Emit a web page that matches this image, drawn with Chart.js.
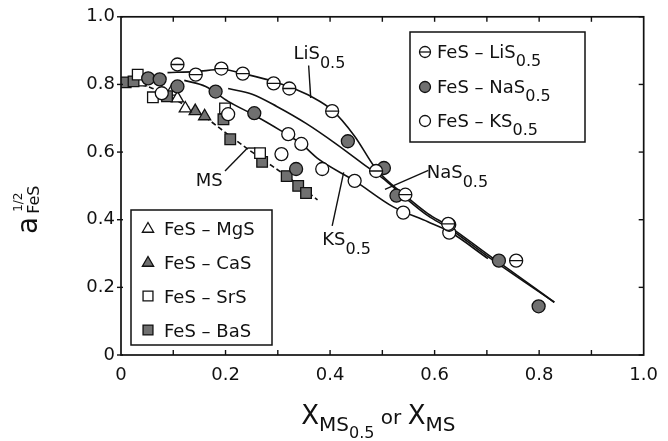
<!DOCTYPE html>
<html><head><meta charset="utf-8">
<script src="https://cdn.jsdelivr.net/npm/chart.js@4/dist/chart.umd.min.js"></script>
<style>html,body{margin:0;padding:0;background:#fff;}</style>
</head><body>
<canvas id="c" width="668" height="441"></canvas>
<script>
const FONT = '"DejaVu Sans", sans-serif';
const INK = '#111';
const GRAY = '#707070';

// ---- data (x = mole fraction, y = a_FeS^(1/2)) ----
const feS_LiS = [[0.108,0.859],[0.143,0.829],[0.192,0.847],[0.233,0.832],[0.292,0.803],[0.322,0.788],[0.404,0.721],[0.488,0.544],[0.544,0.474],[0.626,0.388],[0.756,0.279]];
const feS_NaS = [[0.052,0.818],[0.074,0.815],[0.108,0.794],[0.181,0.779],[0.255,0.715],[0.335,0.550],[0.434,0.632],[0.503,0.553],[0.527,0.471],[0.628,0.385],[0.723,0.279],[0.799,0.144]];
const feS_KS  = [[0.078,0.774],[0.205,0.712],[0.307,0.594],[0.320,0.653],[0.345,0.624],[0.385,0.550],[0.447,0.515],[0.540,0.421],[0.628,0.362]];
const feS_MgS = [[0.037,0.806],[0.097,0.779],[0.108,0.759],[0.123,0.729]];
const feS_CaS = [[0.142,0.721],[0.160,0.706]];
const feS_SrS = [[0.032,0.829],[0.061,0.762],[0.199,0.729],[0.266,0.597]];
const feS_BaS = [[0.009,0.806],[0.024,0.809],[0.088,0.765],[0.196,0.697],[0.209,0.638],[0.270,0.571],[0.317,0.529],[0.339,0.500],[0.354,0.479]];

// guide curves
const curveLi = [[0.089,0.835],[0.143,0.838],[0.192,0.844],[0.242,0.829],[0.298,0.806],[0.335,0.785],[0.363,0.765],[0.404,0.724],[0.447,0.647],[0.488,0.550],[0.544,0.471],[0.587,0.418],[0.626,0.382],[0.702,0.297],[0.764,0.229],[0.829,0.156]];
const curveNa = [[0.205,0.788],[0.251,0.771],[0.298,0.735],[0.354,0.685],[0.410,0.626],[0.471,0.556],[0.507,0.515],[0.544,0.465],[0.587,0.412],[0.628,0.374],[0.702,0.291],[0.829,0.156]];
const curveK  = [[0.121,0.812],[0.162,0.794],[0.205,0.750],[0.255,0.709],[0.304,0.665],[0.345,0.624],[0.378,0.579],[0.447,0.515],[0.521,0.438],[0.587,0.394],[0.628,0.365],[0.702,0.285]];
const curveMS = [[0.009,0.809],[0.056,0.791],[0.102,0.756],[0.158,0.706],[0.209,0.647],[0.270,0.579],[0.317,0.529],[0.376,0.459]];

const xTickValues = [0,0.2,0.4,0.6,0.8,1.0];
const xTickLabels = ['0','0.2','0.4','0.6','0.8','1.0'];
const yTickValues = [0,0.2,0.4,0.6,0.8,1.0];
const yTickLabels = ['0','0.2','0.4','0.6','0.8','1.0'];
const xMinorTicks = [0.1,0.2,0.3,0.4,0.5,0.6,0.7,0.8,0.9];

const legendA = [
  {style:'theta', fill:'#fff', text:'FeS – LiS', sub:'0.5'},
  {style:'circle', fill:GRAY, text:'FeS – NaS', sub:'0.5'},
  {style:'circle', fill:'#fff', text:'FeS – KS', sub:'0.5'}
];
const legendB = [
  {style:'triangle', fill:'#fff', text:'FeS – MgS'},
  {style:'triangle', fill:GRAY, text:'FeS – CaS'},
  {style:'rect', fill:'#fff', text:'FeS – SrS'},
  {style:'rect', fill:GRAY, text:'FeS – BaS'}
];

const toPts = a => a.map(p => ({x:p[0], y:p[1]}));

function markerSet(data, style, fill, radius, order){
  return {data: toPts(data), pointStyle: style, pointRadius: radius, pointHoverRadius: radius,
    pointBackgroundColor: fill, pointBorderColor: INK, pointBorderWidth: 1.3, showLine:false, order};
}
function curveSet(data, order, dash){
  return {data: toPts(data), showLine:true, pointRadius:0, pointHoverRadius:0, borderColor:INK,
    borderWidth:1.6, cubicInterpolationMode:'monotone', fill:false, borderDash: dash||[], order};
}

function drawMarker(ctx, style, fill, r, x, y){
  ctx.save();
  ctx.fillStyle = fill; ctx.strokeStyle = INK; ctx.lineWidth = 1.3;
  ctx.beginPath();
  if (style === 'circle' || style === 'theta') {
    ctx.arc(x, y, r, 0, Math.PI*2);
  } else if (style === 'rect') {
    const s = r*Math.SQRT1_2; ctx.rect(x-s, y-s, 2*s, 2*s);
  } else if (style === 'triangle') {
    let a = 0;
    ctx.moveTo(x + Math.sin(a)*r, y - Math.cos(a)*r);
    a += 2*Math.PI/3; ctx.lineTo(x + Math.sin(a)*r, y - Math.cos(a)*r);
    a += 2*Math.PI/3; ctx.lineTo(x + Math.sin(a)*r, y - Math.cos(a)*r);
    ctx.closePath();
  }
  ctx.fill(); ctx.stroke();
  if (style === 'theta') { ctx.beginPath(); ctx.moveTo(x-r, y); ctx.lineTo(x+r, y); ctx.stroke(); }
  ctx.restore();
}

function rich(ctx, x, y, segs, align){
  let w = 0;
  segs.forEach(s => { ctx.font = s[1]+'px '+FONT; w += ctx.measureText(s[0]).width; });
  let cx = align === 'center' ? x - w/2 : x;
  segs.forEach(s => { ctx.font = s[1]+'px '+FONT; ctx.fillText(s[0], cx, y + s[2]); cx += ctx.measureText(s[0]).width; });
  return w;
}

const deco = {
  id: 'deco',
  afterDraw(chart){
    const {ctx, chartArea: a, scales: {x, y}} = chart;
    const X = v => x.getPixelForValue(v), Y = v => y.getPixelForValue(v);
    ctx.save();
    ctx.strokeStyle = INK; ctx.fillStyle = INK; ctx.lineCap = 'butt';
    const line = (x1,y1,x2,y2) => { ctx.beginPath(); ctx.moveTo(x1,y1); ctx.lineTo(x2,y2); ctx.stroke(); };
    // frame
    ctx.lineWidth = 1.7;
    ctx.strokeRect(a.left, a.top, a.right - a.left, a.bottom - a.top);
    ctx.lineWidth = 1.4;
    xMinorTicks.forEach(v => { const p = X(v); line(p, a.bottom, p, a.bottom - 5); line(p, a.top, p, a.top + 5); });
    yTickValues.forEach(v => { const p = Y(v); line(a.left - 4, p, a.left + 2, p); line(a.right, p, a.right - 5, p); });

    // curve annotations
    ctx.fillStyle = INK; ctx.textBaseline = 'alphabetic'; ctx.textAlign = 'left';
    ctx.lineWidth = 1.4;
    // LiS0.5
    rich(ctx, X(0.330), Y(0.874), [['LiS',18,0],['0.5',16,9]]);
    line(X(0.359), Y(0.856), X(0.363), Y(0.760));
    // NaS0.5
    rich(ctx, X(0.585), Y(0.524), [['NaS',18,0],['0.5',16,9]]);
    line(X(0.588), Y(0.546), X(0.505), Y(0.490));
    // KS0.5
    rich(ctx, X(0.385), Y(0.324), [['KS',18,0],['0.5',16,9]]);
    line(X(0.404), Y(0.382), X(0.426), Y(0.540));
    // MS
    rich(ctx, X(0.143), Y(0.500), [['MS',18,0]]);
    line(X(0.199), Y(0.544), X(0.242), Y(0.612));
    line(X(0.242), Y(0.612), X(0.257), Y(0.612));

    // legend boxes
    ctx.lineWidth = 1.5;
    ctx.fillStyle = '#fff';
    ctx.fillRect(410, 32, 175, 110); ctx.strokeRect(410, 32, 175, 110);
    ctx.fillRect(131, 210, 141, 135); ctx.strokeRect(131, 210, 141, 135);
    const rowsA = [52, 87, 121];
    legendA.forEach((e, i) => {
      drawMarker(ctx, e.style, e.fill, 5.5, 425, rowsA[i]);
      ctx.fillStyle = INK;
      rich(ctx, 437, rowsA[i] + 6, [[e.text,18,0],[e.sub,16,8]]);
    });
    const rowsB = [228, 262, 296, 330];
    legendB.forEach((e, i) => {
      drawMarker(ctx, e.style, e.fill, e.style === 'rect' ? 7 : 6.5, 148, rowsB[i] + (e.style==='triangle'?1:0));
      ctx.fillStyle = INK;
      rich(ctx, 164, rowsB[i] + 7, [[e.text,18,0]]);
    });

    // axis titles
    ctx.fillStyle = INK;
    rich(ctx, (a.left + a.right)/2 - 4, 424, [['X',26,0],['MS',20,7],['0.5',16,14],[' or ',20,0],['X',26,0],['MS',20,7]], 'center');
    ctx.save();
    ctx.translate(37, 234);
    ctx.rotate(-Math.PI/2);
    ctx.font = '28px ' + FONT; ctx.fillText('a', 0, 0);
    const aw = ctx.measureText('a').width + 3;
    ctx.font = '16px ' + FONT; ctx.fillText('FeS', aw, 2);
    ctx.font = '12px ' + FONT; ctx.fillText('1/2', aw + 2, -15);
    ctx.restore();
    ctx.restore();
  }
};

new Chart(document.getElementById('c'), {
  type: 'scatter',
  data: { datasets: [
    markerSet(feS_LiS, 'line', '#fff', 6.5, 0),
    markerSet(feS_LiS, 'circle', '#fff', 6.5, 1),
    markerSet(feS_NaS, 'circle', GRAY, 6.5, 2),
    markerSet(feS_KS, 'circle', '#fff', 6.5, 3),
    markerSet(feS_SrS, 'rect', '#fff', 7.5, 4),
    markerSet(feS_BaS, 'rect', GRAY, 7.5, 5),
    markerSet(feS_MgS, 'triangle', '#fff', 7, 6),
    markerSet(feS_CaS, 'triangle', GRAY, 7, 7),
    curveSet(curveLi, 20),
    curveSet(curveNa, 21),
    curveSet(curveK, 22),
    curveSet(curveMS, 23, [5,3])
  ]},
  plugins: [deco],
  options: {
    responsive: false, animation: false, devicePixelRatio: 1,
    layout: { padding: { left: 0, right: 11, top: 15, bottom: 0 } },
    plugins: { legend: { display: false }, tooltip: { enabled: false } },
    events: [],
    scales: {
      x: { type: 'linear', min: 0, max: 1,
        afterFit: s => { s.height = 86; },
        afterBuildTicks: s => { s.ticks = xTickValues.map(v => ({value: v})); },
        grid: { display: false, drawTicks: false }, border: { display: false },
        ticks: { padding: 10, color: INK, font: { family: FONT, size: 18 }, maxRotation: 0,
          callback: v => { const i = xTickValues.findIndex(t => Math.abs(t - v) < 1e-6); return i >= 0 ? xTickLabels[i] : ''; } } },
      y: { type: 'linear', min: 0, max: 1,
        afterFit: s => { s.width = 121; },
        afterBuildTicks: s => { s.ticks = yTickValues.map(v => ({value: v})); },
        grid: { display: false, drawTicks: false }, border: { display: false },
        ticks: { padding: 6, color: INK, font: { family: FONT, size: 18 },
          callback: v => { const i = yTickValues.findIndex(t => Math.abs(t - v) < 1e-6); return i >= 0 ? yTickLabels[i] : ''; } } }
    }
  }
});
</script>
</body></html>
